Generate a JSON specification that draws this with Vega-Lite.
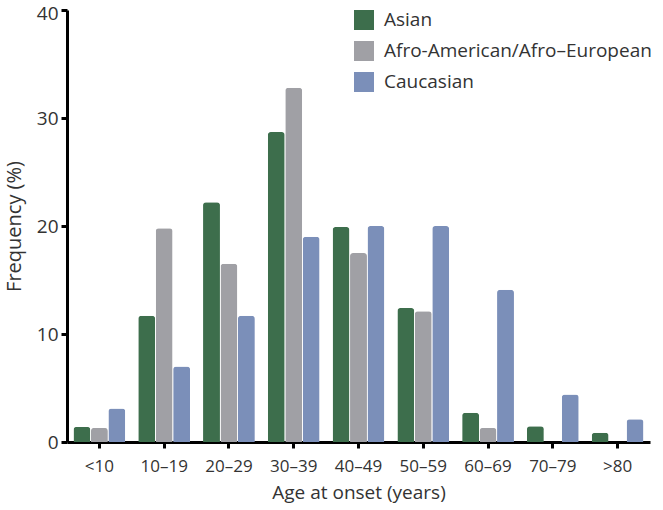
{
  "$schema": "https://vega.github.io/schema/vega-lite/v6.json",
  "autosize": {"type": "none"},
  "width": 583,
  "height": 432,
  "padding": {"left": 67, "top": 10, "right": 13, "bottom": 68},
  "background": "white",
  "config": {
    "view": {"stroke": null},
    "font": "Open Sans",
    "axis": {
      "domainColor": "black",
      "domainWidth": 3,
      "tickColor": "black",
      "tickWidth": 3,
      "tickSize": 6,
      "grid": false,
      "labelColor": "#333333",
      "titleColor": "#333333",
      "titleFontWeight": "normal",
      "labelFont": "Open Sans",
      "titleFont": "Open Sans"
    }
  },
  "data": {
    "values": [
      {"age": "<10", "group": "Asian", "freq": 1.4},
      {"age": "<10", "group": "Afro-American/Afro–European", "freq": 1.3},
      {"age": "<10", "group": "Caucasian", "freq": 3.1},
      {"age": "10–19", "group": "Asian", "freq": 11.7},
      {"age": "10–19", "group": "Afro-American/Afro–European", "freq": 19.8},
      {"age": "10–19", "group": "Caucasian", "freq": 7.0},
      {"age": "20–29", "group": "Asian", "freq": 22.2},
      {"age": "20–29", "group": "Afro-American/Afro–European", "freq": 16.5},
      {"age": "20–29", "group": "Caucasian", "freq": 11.7},
      {"age": "30–39", "group": "Asian", "freq": 28.7},
      {"age": "30–39", "group": "Afro-American/Afro–European", "freq": 32.8},
      {"age": "30–39", "group": "Caucasian", "freq": 19.0},
      {"age": "40–49", "group": "Asian", "freq": 19.9},
      {"age": "40–49", "group": "Afro-American/Afro–European", "freq": 17.5},
      {"age": "40–49", "group": "Caucasian", "freq": 20.0},
      {"age": "50–59", "group": "Asian", "freq": 12.4},
      {"age": "50–59", "group": "Afro-American/Afro–European", "freq": 12.1},
      {"age": "50–59", "group": "Caucasian", "freq": 20.0},
      {"age": "60–69", "group": "Asian", "freq": 2.7},
      {"age": "60–69", "group": "Afro-American/Afro–European", "freq": 1.3},
      {"age": "60–69", "group": "Caucasian", "freq": 14.1},
      {"age": "70–79", "group": "Asian", "freq": 1.45},
      {"age": "70–79", "group": "Afro-American/Afro–European", "freq": 0},
      {"age": "70–79", "group": "Caucasian", "freq": 4.4},
      {"age": ">80", "group": "Asian", "freq": 0.85},
      {"age": ">80", "group": "Afro-American/Afro–European", "freq": 0},
      {"age": ">80", "group": "Caucasian", "freq": 2.1}
    ]
  },
  "mark": {"type": "bar", "cornerRadiusTopLeft": 3, "cornerRadiusTopRight": 3},
  "encoding": {
    "x": {
      "field": "age",
      "type": "nominal",
      "sort": null,
      "scale": {"paddingInner": 0.2, "paddingOuter": 0.1},
      "axis": {
        "title": "Age at onset (years)",
        "labelAngle": 0,
        "labelFontSize": 17,
        "titleFontSize": 19,
        "labelPadding": 10,
        "titlePadding": 9
      }
    },
    "xOffset": {
      "field": "group",
      "type": "nominal",
      "sort": ["Asian", "Afro-American/Afro–European", "Caucasian"],
      "scale": {"paddingInner": 0.03, "paddingOuter": 0}
    },
    "y": {
      "field": "freq",
      "type": "quantitative",
      "scale": {"domain": [0, 40], "nice": false},
      "axis": {
        "title": "Frequency (%)",
        "values": [0, 10, 20, 30, 40],
        "labelFontSize": 19,
        "titleFontSize": 20,
        "labelPadding": 3,
        "titlePadding": 12,
        "labelOffset": {"condition": {"test": "datum.value == 40", "value": 3}, "value": 0}
      }
    },
    "color": {
      "field": "group",
      "type": "nominal",
      "sort": ["Asian", "Afro-American/Afro–European", "Caucasian"],
      "scale": {
        "domain": ["Asian", "Afro-American/Afro–European", "Caucasian"],
        "range": ["#3d6e4c", "#a0a0a5", "#7b8fb9"]
      },
      "legend": {
        "title": null,
        "orient": "none",
        "legendX": 287,
        "legendY": 0,
        "symbolType": "square",
        "symbolSize": 400,
        "symbolStrokeWidth": 0,
        "symbolOpacity": 1,
        "labelFontSize": 19,
        "labelFont": "Open Sans",
        "labelColor": "#333333",
        "labelOffset": 10,
        "rowPadding": 11,
        "labelLimit": 400
      }
    }
  }
}
